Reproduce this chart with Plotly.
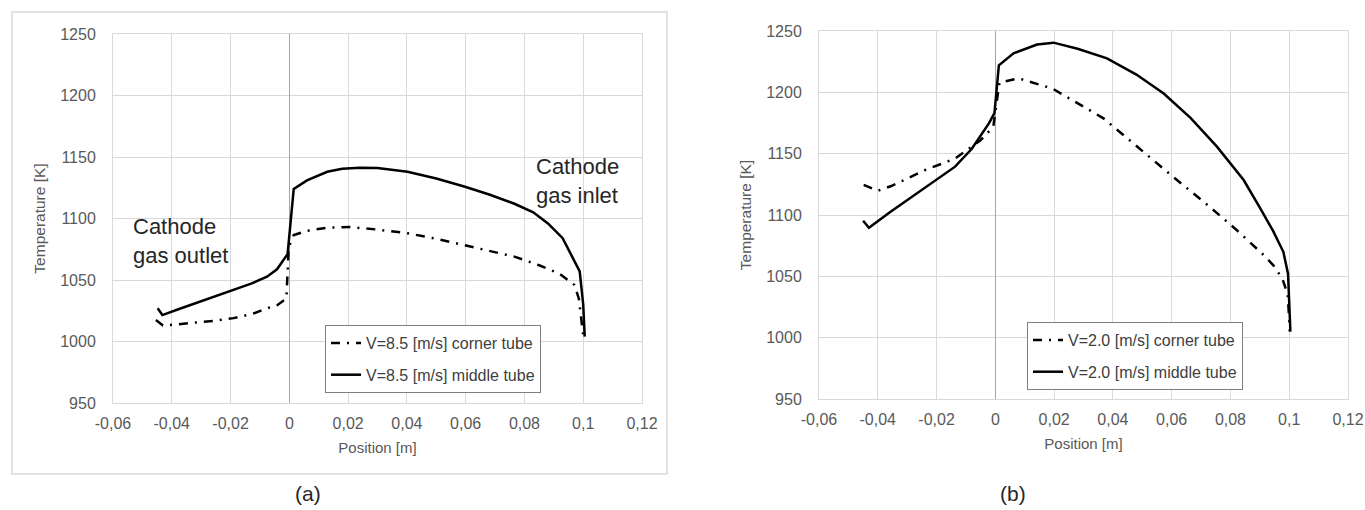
import plotly.graph_objects as go

# ---------------- data ----------------
# Panel (a): V = 8.5 m/s
a_mid_x = [-0.0448, -0.0432, -0.038, -0.0304, -0.025, -0.019, -0.013, -0.0076, -0.0042, -0.0006,
           0.0015, 0.006, 0.0129, 0.018, 0.024, 0.030, 0.0402, 0.050, 0.0595, 0.068, 0.0766,
           0.083, 0.088, 0.093, 0.097, 0.0988, 0.1, 0.1005]
a_mid_T = [1027, 1021.5, 1026, 1032.4, 1036.5, 1041.9, 1047, 1052.7, 1058.7, 1071,
           1124, 1131, 1138, 1140.5, 1141.3, 1141, 1138, 1132.5, 1126, 1119.5, 1112,
           1105, 1096, 1084, 1066, 1057, 1030, 1004]

a_cor_x = [-0.0454, -0.043, -0.038, -0.0327, -0.025, -0.019, -0.0125, -0.0076, -0.004, -0.001,
           -0.0002, 0.0015, 0.006, 0.0129, 0.0208, 0.030, 0.0402, 0.050, 0.0595, 0.068, 0.0766,
           0.085, 0.092, 0.097, 0.0985, 0.1]
a_cor_T = [1017.5, 1013, 1014, 1015, 1017, 1019, 1022.5, 1027, 1029.7, 1035,
           1077, 1086.5, 1090, 1092.5, 1093, 1091, 1088, 1083.5, 1078.5, 1074, 1069,
           1062, 1055, 1046, 1035, 1005]

# Panel (b): V = 2.0 m/s
b_mid_x = [-0.0450, -0.0430, -0.036, -0.0282, -0.0209, -0.0137, -0.008, -0.0022, -0.0003, 0.0012,
           0.0062, 0.0142, 0.0198, 0.028, 0.038, 0.048, 0.0573, 0.0665, 0.0754, 0.0845,
           0.090, 0.0945, 0.098, 0.0996, 0.1004]
b_mid_T = [1095.3, 1089.6, 1102, 1115, 1127.5, 1139.4, 1154, 1174.7, 1183, 1222,
           1231.8, 1239, 1240.5, 1235.5, 1227.7, 1214.5, 1199, 1179, 1155.7, 1128.5,
           1106, 1087, 1070, 1052, 1005]

b_cor_x = [-0.0448, -0.0400, -0.0354, -0.0238, -0.0137, -0.005, -0.0007, 0.0007, 0.0014, 0.008,
           0.0195, 0.0368, 0.047, 0.0618, 0.0729, 0.082, 0.091, 0.0946, 0.0977, 0.0995, 0.1002]
b_cor_T = [1124.5, 1119.8, 1123.6, 1136.7, 1146, 1161, 1172, 1199, 1208, 1211.4,
           1203, 1178.8, 1158, 1128.5, 1106.8, 1088, 1068, 1059, 1048, 1035, 1005]

x_tick_vals = [-0.06, -0.04, -0.02, 0, 0.02, 0.04, 0.06, 0.08, 0.1, 0.12]
x_tick_text = ["-0,06", "-0,04", "-0,02", "0", "0,02", "0,04", "0,06", "0,08", "0,1", "0,12"]
y_tick_vals = [950, 1000, 1050, 1100, 1150, 1200, 1250]
y_tick_text = ["950", "1000", "1050", "1100", "1150", "1200", "1250"]

names_a = ["V=8.5 [m/s] corner tube", "V=8.5 [m/s] middle tube"]
names_b = ["V=2.0 [m/s] corner tube", "V=2.0 [m/s] middle tube"]

# ---------------- figure ----------------
W, H = 1365, 510
FONT = "Liberation Sans, Arial, sans-serif"
GRID = "#d9d9d9"
TXT = "#595959"

def px_x(p):
    return p / W

def px_y(p):
    return 1 - p / H

fig = go.Figure()

dashdot = "9px,7px,2px,7px"

fig.add_trace(go.Scatter(x=a_cor_x, y=a_cor_T, mode="lines", name=names_a[0],
                         line=dict(color="black", width=2.5, dash=dashdot),
                         xaxis="x", yaxis="y", legend="legend", legendgroup="a1"))
fig.add_trace(go.Scatter(x=a_mid_x, y=a_mid_T, mode="lines", name=names_a[1],
                         line=dict(color="black", width=2.5),
                         xaxis="x", yaxis="y", legend="legend", legendgroup="a2"))
fig.add_trace(go.Scatter(x=b_cor_x, y=b_cor_T, mode="lines", name=names_b[0],
                         line=dict(color="black", width=2.5, dash=dashdot),
                         xaxis="x2", yaxis="y2", legend="legend2", legendgroup="b1"))
fig.add_trace(go.Scatter(x=b_mid_x, y=b_mid_T, mode="lines", name=names_b[1],
                         line=dict(color="black", width=2.5),
                         xaxis="x2", yaxis="y2", legend="legend2", legendgroup="b2"))

def xaxis(domain, anchor):
    return dict(domain=domain, anchor=anchor, range=[-0.06, 0.12], automargin=False,
                tickvals=x_tick_vals, ticktext=x_tick_text,
                showgrid=True, gridcolor=GRID, gridwidth=1,
                zeroline=True, zerolinecolor="#a6a6a6", zerolinewidth=1,
                showline=True, linecolor=GRID, mirror=True,
                ticks="", ticklabelstandoff=6,
                tickfont=dict(family=FONT, size=16, color=TXT),
                title=dict(text="Position [m]", standoff=11,
                           font=dict(family=FONT, size=15, color=TXT)))

def yaxis(domain, anchor):
    return dict(domain=domain, anchor=anchor, range=[950, 1250], automargin=False,
                tickvals=y_tick_vals, ticktext=y_tick_text,
                showgrid=True, gridcolor=GRID, gridwidth=1,
                zeroline=False, showline=True, linecolor=GRID, mirror=True,
                ticks="", ticklabelstandoff=13,
                tickfont=dict(family=FONT, size=16, color=TXT),
                title=dict(text="Temperature [K]", standoff=10,
                           font=dict(family=FONT, size=15.5, color=TXT)))

legend_style = dict(bgcolor="white", bordercolor="#7f7f7f", borderwidth=1,
                    font=dict(family=FONT, size=16, color="#404040"),
                    tracegroupgap=8, xanchor="left", yanchor="top")

fig.update_layout(
    width=W, height=H,
    margin=dict(l=0, r=0, t=0, b=0, autoexpand=False),
    paper_bgcolor="white", plot_bgcolor="white",
    showlegend=True,
    xaxis=xaxis([px_x(113), px_x(642)], "y"),
    yaxis=yaxis([px_y(403), px_y(34)], "x"),
    xaxis2=xaxis([px_x(819), px_x(1348)], "y2"),
    yaxis2=yaxis([px_y(399), px_y(31)], "x2"),
    legend=dict(x=px_x(325), y=px_y(325), **legend_style),
    legend2=dict(x=px_x(1027), y=px_y(322), **legend_style),
    shapes=[dict(type="rect", xref="paper", yref="paper",
                 x0=px_x(12), x1=px_x(667), y0=px_y(474), y1=px_y(12),
                 line=dict(color="#d9d9d9", width=1.5), layer="below")],
    annotations=[
        dict(text="Cathode<br>gas outlet", xref="paper", yref="paper",
             x=px_x(131), y=px_y(241), xanchor="left", yanchor="middle", align="left",
             showarrow=False, font=dict(family=FONT, size=22, color="#262626")),
        dict(text="Cathode<br>gas inlet", xref="paper", yref="paper",
             x=px_x(534), y=px_y(181), xanchor="left", yanchor="middle", align="left",
             showarrow=False, font=dict(family=FONT, size=22, color="#262626")),
        dict(text="(a)", xref="paper", yref="paper", x=px_x(308), y=px_y(493),
             xanchor="center", yanchor="middle", showarrow=False,
             font=dict(family=FONT, size=21, color="#262626")),
        dict(text="(b)", xref="paper", yref="paper", x=px_x(1013), y=px_y(493),
             xanchor="center", yanchor="middle", showarrow=False,
             font=dict(family=FONT, size=21, color="#262626")),
    ],
)

fig.write_html("out.html",
               config={"displayModeBar": False},
               post_script="document.body.style.margin='0';"
                           "document.body.style.overflow='hidden';")
